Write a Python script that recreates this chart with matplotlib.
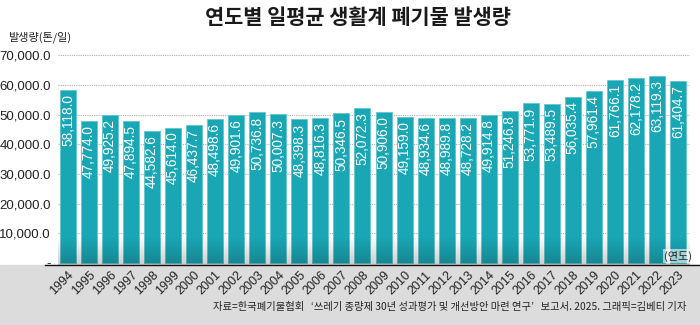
import numpy as np
import matplotlib.pyplot as plt
from matplotlib.lines import Line2D
from matplotlib.patches import Rectangle
from matplotlib import font_manager

# Data (tons per day)
years = list(range(1994, 2024))
values = [58118.0, 47774.0, 49925.2, 47894.5, 44582.6, 45614.0, 46437.7, 48498.6,
          49901.6, 50736.8, 50007.3, 48398.3, 48816.3, 50346.5, 52072.3, 50906.0,
          49159.0, 48934.6, 48989.8, 48728.2, 49914.8, 51246.8, 53771.9, 53489.5,
          56035.4, 57961.4, 61766.1, 62178.2, 63119.3, 61404.7]
yticks = [0, 10000, 20000, 30000, 40000, 50000, 60000, 70000]
ytick_labels = ['-', '10,000.0', '20,000.0', '30,000.0', '40,000.0', '50,000.0',
                '60,000.0', '70,000.0']

title = '연도별 일평균 생활계 폐기물 발생량'
ylabel = '발생량(톤/일)'
xunit = '(연도)'
source = '자료=한국폐기물협회   ‘쓰레기 종량제 30년 성과평가 및 개선방안 마련 연구’   보고서. 2025. 그래픽=김베티 기자'

names = {f.name for f in font_manager.fontManager.ttflist}
narrow = 'Liberation Sans Narrow' if 'Liberation Sans Narrow' in names else 'Liberation Sans'
kr = 'Noto Sans CJK KR'
plt.rcParams['font.family'] = [kr, 'DejaVu Sans']

teal = '#1aa7b5'

fig = plt.figure(figsize=(7, 3.25), dpi=100)
W, H = 700, 325

# gray band at bottom
fig.patches.append(Rectangle((0, 0), 1, 60 / H, transform=fig.transFigure,
                             color='#dcdcdc', zorder=-1))

ax = fig.add_axes([58 / W, 60 / H, 632 / W, 216 / H])
ax.patch.set_alpha(0)
x = np.arange(len(years))
ax.bar(x, values, width=0.76, color=teal, edgecolor='#63c6cf', linewidth=0.6, zorder=2)

ax.set_xlim(-0.475, 29.57)
ax.set_ylim(-673, 72054)

for t in yticks[1:]:
    ax.axhline(t, color='#b0b0b0', linestyle=(0, (1, 1)), linewidth=0.8, zorder=1)

ax.set_yticks(yticks)
ax.set_yticklabels(ytick_labels, fontfamily=narrow, fontsize=9.5, color='#222222')
ax.tick_params(axis='y', length=0, pad=5)
ax.set_xticks(x)
ax.set_xticklabels([str(y) for y in years], rotation=45, ha='right',
                   rotation_mode='anchor', fontfamily=narrow, fontsize=9, color='#222222')
ax.tick_params(axis='x', length=0, pad=3)
for s in ax.spines.values():
    s.set_visible(False)

# value labels inside bars
for xi, v in zip(x, values):
    ax.annotate(f'{v:,.1f}', (xi, v), xytext=(0, -3), textcoords='offset points',
                rotation=90, ha='center', va='top', color='white',
                fontfamily=narrow, fontsize=9.8, zorder=4)

# darkening gradient at the bottom of the plot
grad = np.zeros((50, 2, 4))
grad[:, :, 3] = np.linspace(0, 0.2, 50)[:, None]
ax.imshow(grad, extent=[0, 1, 0, 0.13], transform=ax.transAxes, aspect='auto',
          origin='upper', zorder=3, interpolation='bilinear')

# baseline
fig.add_artist(Line2D([45 / W, 1], [60 / H, 60 / H], color='#111111', linewidth=1.0))

fig.text(678 / W, 1 - 256 / H, xunit, fontsize=8, color='#222222', ha='center', va='center',
         zorder=5, bbox=dict(boxstyle='square,pad=0.1', fc='white', ec='none', alpha=0.6))

fig.text(358 / W, 1 - 17 / H, title, ha='center', va='center', fontsize=15,
         fontweight='black', color='#1a1a1a')
fig.text(8 / W, 1 - 37 / H, ylabel, ha='left', va='center', fontsize=8, color='#222222')
fig.text(686 / W, 1 - 307 / H, source, ha='right', va='center', fontsize=7.4, color='#222222')

fig.savefig('out.png', dpi=100)
